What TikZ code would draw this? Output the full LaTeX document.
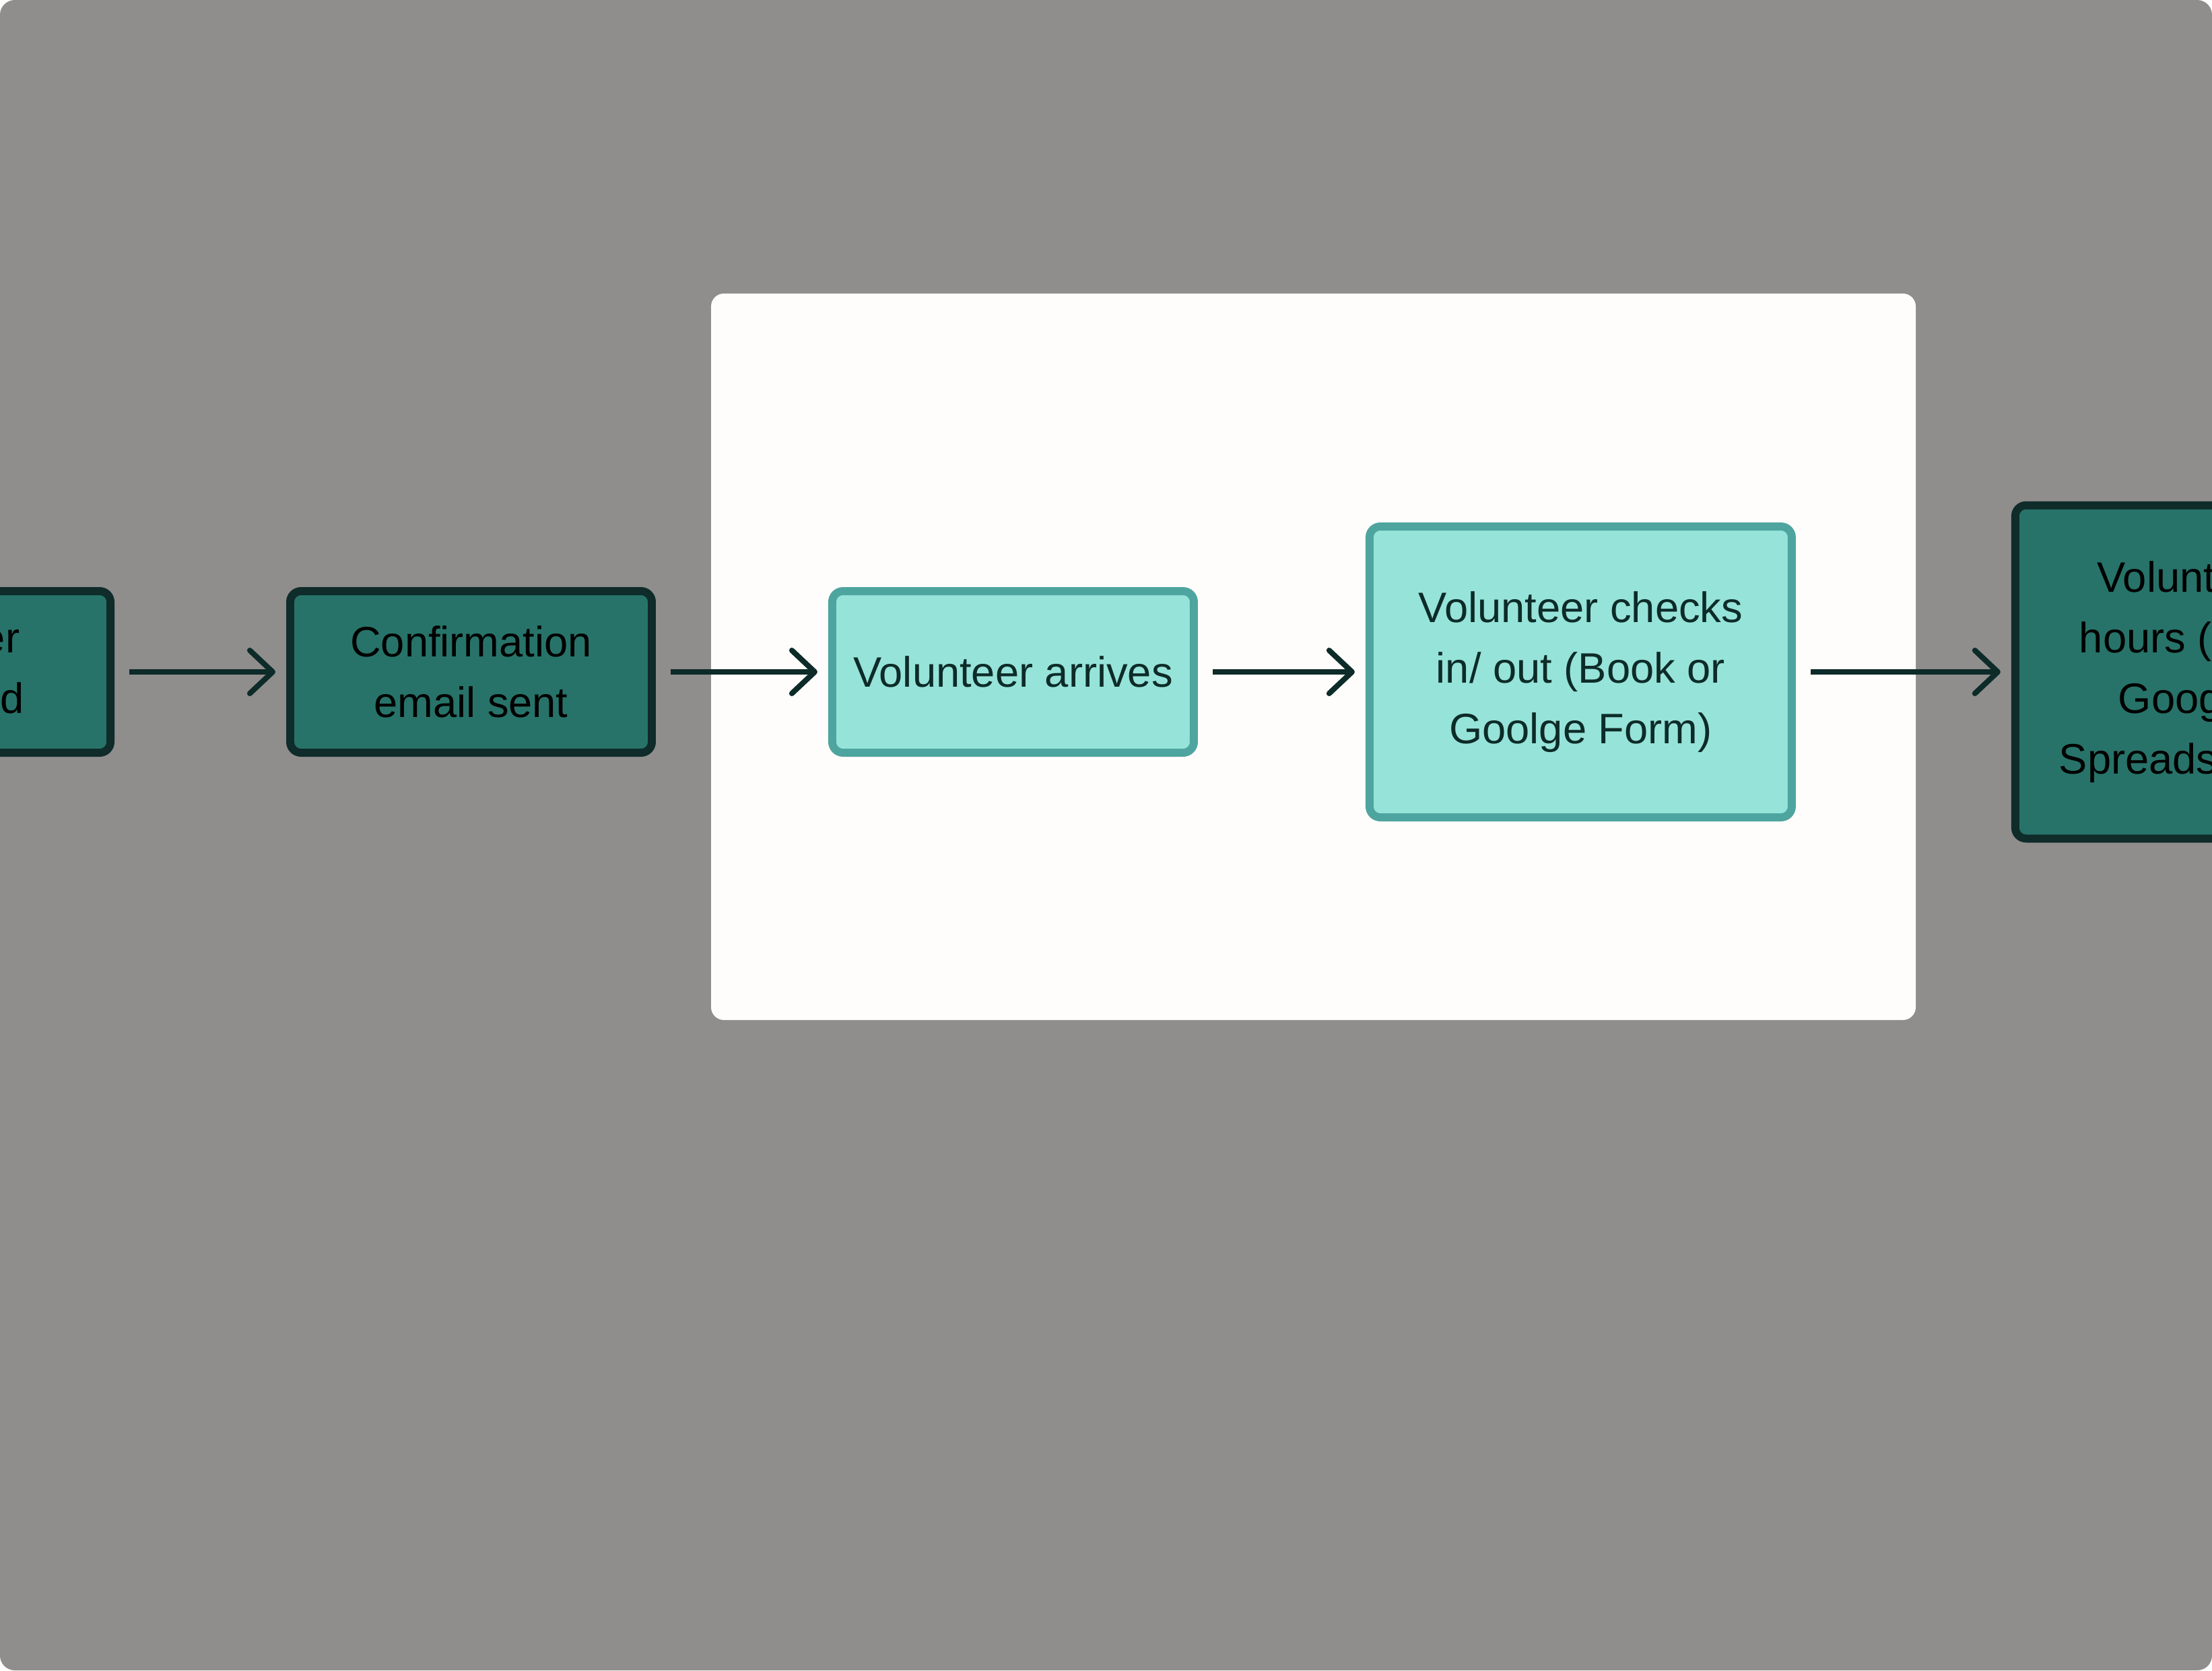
\documentclass[tikz,border=0pt]{standalone}
\usepackage{fontspec}
\setmainfont{Liberation Sans}
\usepackage{xcolor}
\usetikzlibrary{arrows.meta,positioning}
\definecolor{pagegrey}{HTML}{8F8E8C}
\definecolor{panelwhite}{HTML}{FFFDFB}
\definecolor{darkteal}{HTML}{277369}
\definecolor{darkedge}{HTML}{0F2B2A}
\definecolor{lightteal}{HTML}{96E3D9}
\definecolor{lightedge}{HTML}{4EA59F}
\definecolor{inkteal}{HTML}{0D2B28}

\begin{document}
\begin{tikzpicture}[
    darkbox/.style={rectangle, draw=darkedge, fill=darkteal, line width=3.4pt, rounded corners=1.6mm, minimum width=5.37cm, minimum height=2.4cm, align=center, text=black, font=\fontsize{18}{25.6}\selectfont},
    lightbox/.style={darkbox, draw=lightedge, fill=lightteal, text=inkteal},
    arrow/.style={-{Straight Barb[length=3.4mm, width=6.4mm, round]}, line width=2.3pt, draw=inkteal, shorten <=2.2mm, shorten >=1.6mm}
]
% page and panel
\useasboundingbox (0,0) rectangle (32.85,-24.81);
\fill[white] (0,0) rectangle (32.85,-24.81);
\fill[pagegrey, rounded corners=2.2mm] (0,0) rectangle (32.85,-24.81);
\fill[panelwhite, rounded corners=1.9mm] (10.56,-4.36) rectangle (28.45,-15.15);

\node[darkbox] (confirm) at (6.995,-9.98) {Confirmation\\email sent};
\node[darkbox, left=2.55cm of confirm] (register) {Volunteer\\registered};
\node[lightbox, right=2.56cm of confirm] (arrive) {Volunteer arrives};
\node[lightbox, minimum width=6.27cm, minimum height=4.32cm, right=2.49cm of arrive] (checkin) {Volunteer checks\\in/ out (Book or\\Goolge Form)};
\node[darkbox, minimum width=5.1cm, minimum height=4.95cm, right=3.2cm of checkin] (hours) {Volunteer\\hours (on a\\Google\\Spreadsheet)};

\draw[arrow] (register) -- (confirm);
\draw[arrow] (confirm) -- (arrive);
\draw[arrow] (arrive) -- (checkin);
\draw[arrow] (checkin) -- (hours);
\end{tikzpicture}
\end{document}
